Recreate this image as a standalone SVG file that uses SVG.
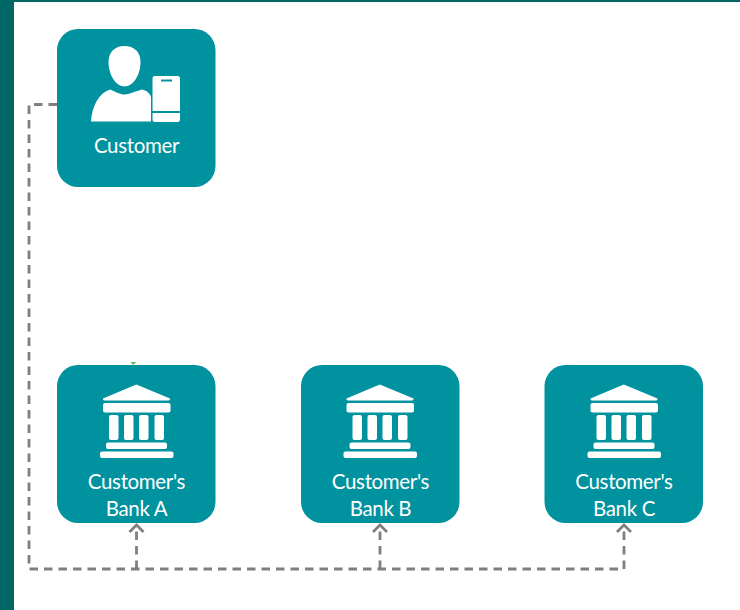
<svg xmlns="http://www.w3.org/2000/svg" width="740" height="610" viewBox="0 0 740 610">
<style>
.box{fill:#00929e}
.ico{fill:#fff}
.lbl{fill:#fff;font-family:"Lato","Noto Sans",sans-serif;font-size:20.500px;letter-spacing:-0.350px;text-anchor:middle}
.conn{fill:none;stroke:#7f7f7f;stroke-width:2.800;stroke-dasharray:8.500 6}
.head{fill:none;stroke:#7f7f7f;stroke-width:2.800}
</style>
<defs>
<g id="bank">
<path class="ico" d="M136.300 384.500L170 398.500Q170.500 400.500 168.500 400.500L104.500 400.500Q102.500 400.500 103 398.500Z"/>
<rect class="ico" x="103" y="403" width="67.500" height="9.500" rx="2"/>
<rect class="ico" x="109" y="415" width="9.500" height="25" rx="2"/>
<rect class="ico" x="124" y="415" width="9.500" height="25" rx="2"/>
<rect class="ico" x="139" y="415" width="9.500" height="25" rx="2"/>
<rect class="ico" x="154.500" y="415" width="9.500" height="25" rx="2"/>
<rect class="ico" x="106" y="442.500" width="61" height="6.500" rx="2"/>
<rect class="ico" x="100" y="451.500" width="73.500" height="6.500" rx="2"/>
</g>
</defs>
<rect width="740" height="610" fill="#fff"/>
<rect x="0" y="0" width="14" height="610" fill="#006666"/>
<rect x="0" y="0" width="740" height="2" fill="#006666"/>
<g id="connectors">
<path class="conn" d="M57 104.500H29V569H624V527"/>
<path class="conn" d="M136.500 569V527"/>
<path class="conn" d="M380 569V527"/>
<path class="head" d="M129.500 532L136.500 525L143.500 532"/>
<path class="head" d="M373 532L380 525L387 532"/>
<path class="head" d="M617 532L624 525L631 532"/>
<path d="M130.500 362H136L133.300 365Z" fill="#5cb85c"/>
</g>
<g id="customer">
<rect class="box" x="57" y="29" width="158.500" height="158" rx="21"/>
<path class="ico" d="M124.500 46C134 46 140.500 52 140.500 62C140.500 75 133 86.500 124.500 86.500C116 86.500 108.500 75 108.500 62C108.500 52 115 46 124.500 46Z"/>
<path class="ico" d="M91 121.500C92 106 99 93 110 89.500C116 92 120 94.500 124.500 94.500C129 94.500 136 91 142 89.500C147 90.500 151 94 151 98V121.500Z"/>
<path class="ico" fill-rule="evenodd" d="M155 76H177.500Q180 76 180 78.500V119.500Q180 122 177.500 122H155Q152.500 122 152.500 119.500V78.500Q152.500 76 155 76ZM152.500 111V113H180V111ZM161 79.500V81.500H172V79.500Z"/>
<text class="lbl" x="136.500" y="153">Customer</text>
</g>
<g id="bank-a">
<rect class="box" x="57" y="365" width="158.500" height="158" rx="21"/>
<use href="#bank"/>
<text class="lbl" x="136.500" y="488.500">Customer's</text>
<text class="lbl" x="136.500" y="515.500">Bank A</text>
</g>
<g id="bank-b">
<rect class="box" x="301" y="365" width="158.500" height="158" rx="21"/>
<use href="#bank" x="243.500"/>
<text class="lbl" x="380.500" y="488.500">Customer's</text>
<text class="lbl" x="380.500" y="515.500">Bank B</text>
</g>
<g id="bank-c">
<rect class="box" x="544.500" y="365" width="158.500" height="158" rx="21"/>
<use href="#bank" x="487.500"/>
<text class="lbl" x="624" y="488.500">Customer's</text>
<text class="lbl" x="624" y="515.500">Bank C</text>
</g>
</svg>
